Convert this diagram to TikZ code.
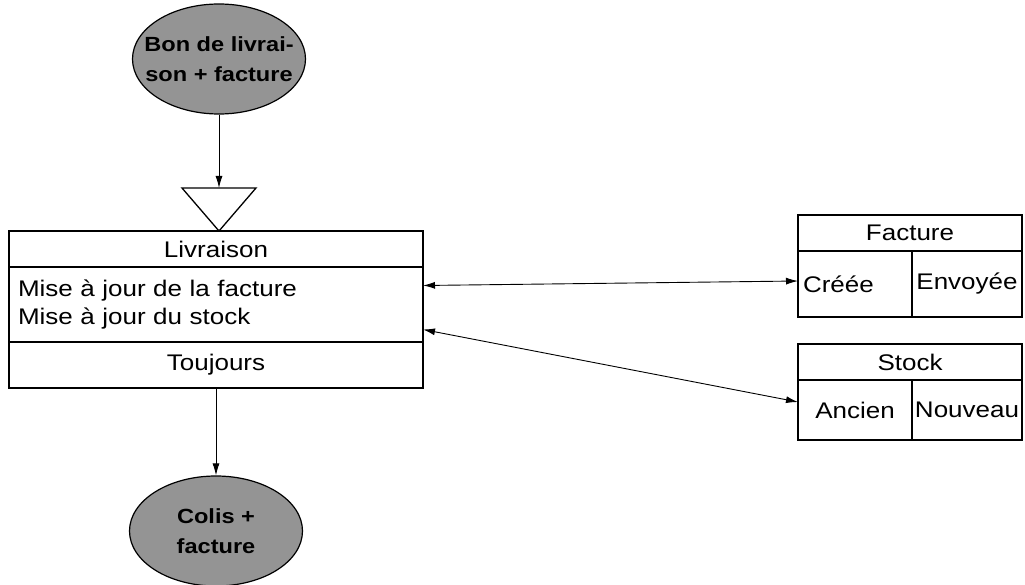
\documentclass[tikz,border=0pt]{standalone}
\usepackage{fontspec}
\setmainfont{Liberation Sans}[FakeStretch=1.15]
\usetikzlibrary{positioning,arrows.meta,shapes.geometric}

\begin{document}
\begin{tikzpicture}[x=1pt,y=-1pt,
    flux/.style={ellipse, draw, line width=1.2pt, fill=black!42, minimum width=173pt, minimum height=110pt, inner sep=0pt},
    fluxtexte/.style={align=center, inner sep=0pt, font=\fontsize{20.5}{30}\selectfont\bfseries},
    case/.style={rectangle, draw, line width=1.3pt, inner sep=0pt, outer sep=0pt, font=\fontsize{22.6}{28}\selectfont},
    fleche/.style={-{Latex[length=12pt,width=7pt]}, line width=0.9pt},
    lien/.style={{Latex[length=12pt,width=7pt]}-{Latex[length=12pt,width=7pt]}, line width=0.9pt}]
    \useasboundingbox (0,0) rectangle (1025,585);

    \node[flux] (bon) at (219,59) {};
    \node[fluxtexte] (bontexte) at (bon) {Bon de livrai-\\son + facture};

    \node[case, minimum width=414pt, minimum height=36pt, anchor=north west] (livtitre) at (9,231) {Livraison};
    \node[case, minimum width=414pt, minimum height=75pt, text width=396pt, align=left, below=0pt of livtitre] (livaction) {Mise à jour de la facture\\Mise à jour du stock};
    \node[case, minimum width=414pt, minimum height=46pt, below=0pt of livaction] (livcond) {Toujours};

    \coordinate (tripointe) at (bon.south |- livtitre.north);
    \coordinate (trihaut) at ([yshift=43pt]tripointe);
    \draw[line width=1.3pt] (tripointe) -- ++(-37,-43) -- ++(74,0) -- cycle;

    \node[case, minimum width=224pt, minimum height=36pt, anchor=north west] (factitre) at (798,215) {Facture};
    \node[case, minimum width=114pt, minimum height=66pt, text width=104pt, align=left, anchor=north west] (faccree) at (factitre.south west) {Créée};
    \node[case, minimum width=110pt, minimum height=66pt, anchor=north west] (facenv) at (faccree.north east) {Envoyée};

    \node[case, minimum width=224pt, minimum height=36pt, anchor=north west] (stktitre) at (798,344) {Stock};
    \node[case, minimum width=114pt, minimum height=60pt, anchor=north west] (stkanc) at (stktitre.south west) {Ancien};
    \node[case, minimum width=110pt, minimum height=60pt, anchor=north west] (stknouv) at (stkanc.north east) {Nouveau};

    \node[flux] (colis) at (216,531) {};
    \node[fluxtexte] (colistexte) at (colis) {Colis +\\facture};

    \draw[fleche] (bon) -- (trihaut);
    \draw[fleche] (livcond) -- (colis);
    \draw[lien] ([yshift=19pt]livaction.east) -- ([yshift=3pt]faccree.west);
    \draw[lien] ([yshift=-25pt]livaction.east) -- ([yshift=8pt]stkanc.west);
\end{tikzpicture}
\end{document}
